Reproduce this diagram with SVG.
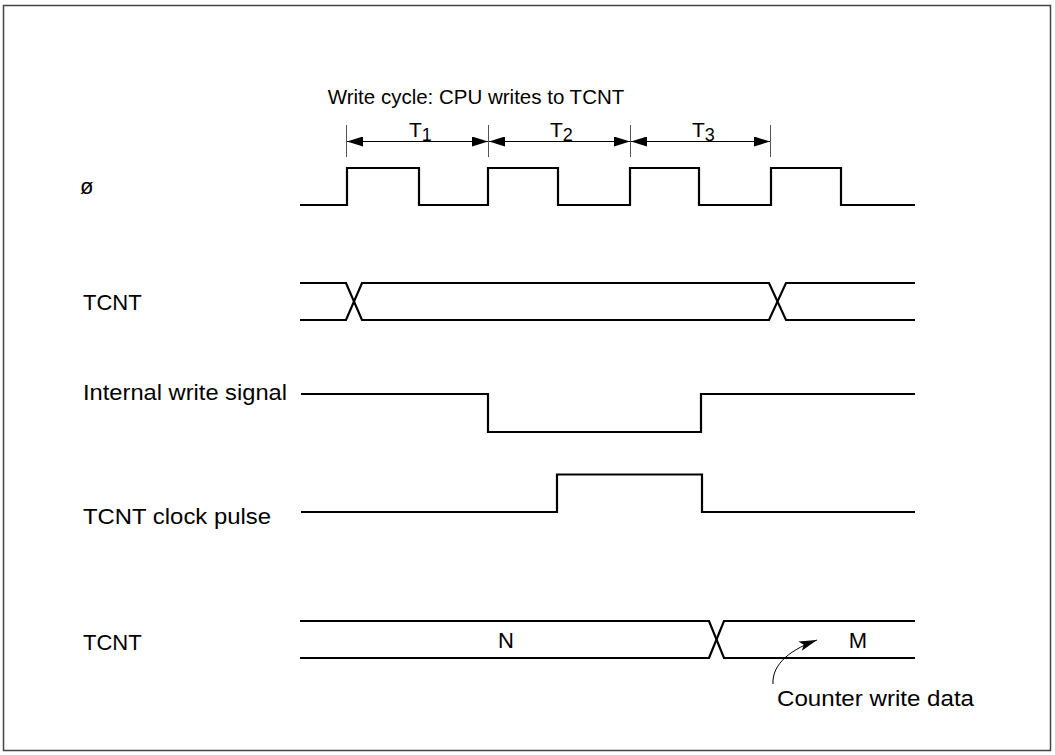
<svg xmlns="http://www.w3.org/2000/svg" width="1055" height="755" viewBox="0 0 1055 755">
<style>
.sig{fill:none;stroke:#000;stroke-width:2.2;stroke-linejoin:miter}
.tick{stroke:#555;stroke-width:1}
.dim{stroke:#000;stroke-width:1}
text{font-family:"Liberation Sans",Arial,sans-serif;font-size:22px;fill:#000}
.ttl{font-size:20.5px}
.per{font-size:21px}
.sub{font-size:18px}
</style>
<defs>
<marker id="ah" viewBox="0 0 16 10" refX="16" refY="5" markerWidth="16" markerHeight="10" markerUnits="userSpaceOnUse" orient="auto-start-reverse">
<path d="M0,0 L16,5 L0,10 Z" fill="#000"/>
</marker>
<marker id="ah2" viewBox="0 0 18 10" refX="18" refY="5" markerWidth="18" markerHeight="10" markerUnits="userSpaceOnUse" orient="auto">
<path d="M0,0 L18,5 L0,10 L4,5 Z" fill="#000"/>
</marker>
</defs>
<rect x="3.5" y="5.5" width="1047" height="745" fill="#fff" stroke="#444" stroke-width="1.5"/>
<g id="title"><text class="ttl" x="476" y="104" text-anchor="middle">Write cycle: CPU writes to TCNT</text></g>
<g id="labels">
<text x="80" y="194">ø</text>
<text x="83" y="310">TCNT</text>
<text x="83" y="400" textLength="204" lengthAdjust="spacingAndGlyphs">Internal write signal</text>
<text x="83" y="524" textLength="188" lengthAdjust="spacingAndGlyphs">TCNT clock pulse</text>
<text x="83" y="650">TCNT</text>
</g>
<g id="periods">
<line class="tick" x1="346.5" y1="125" x2="346.5" y2="157"/>
<line class="tick" x1="488.5" y1="125" x2="488.5" y2="157"/>
<line class="tick" x1="630.5" y1="125" x2="630.5" y2="157"/>
<line class="tick" x1="770.5" y1="125" x2="770.5" y2="157"/>
<line class="dim" x1="347" y1="141.5" x2="488" y2="141.5" marker-start="url(#ah)" marker-end="url(#ah)"/>
<line class="dim" x1="489" y1="141.5" x2="630" y2="141.5" marker-start="url(#ah)" marker-end="url(#ah)"/>
<line class="dim" x1="631" y1="141.5" x2="770" y2="141.5" marker-start="url(#ah)" marker-end="url(#ah)"/>
<text class="per" x="409" y="137">T<tspan class="sub" dy="4">1</tspan></text>
<text class="per" x="550" y="137">T<tspan class="sub" dy="4">2</tspan></text>
<text class="per" x="692" y="137">T<tspan class="sub" dy="4">3</tspan></text>
</g>
<g id="clock">
<path class="sig" d="M300,205 H347 V168 H419 V205 H488 V168 H558 V205 H630 V168 H699 V205 H771 V168 H841 V205 H915"/>
</g>
<g id="tcnt1">
<path class="sig" d="M300,283 H346 L362,320 H769 L786,283 H915"/>
<path class="sig" d="M300,320 H346 L362,283 H769 L786,320 H915"/>
</g>
<g id="write-signal">
<path class="sig" d="M301,394 H488 V432 H701 V394 H915"/>
</g>
<g id="clock-pulse">
<path class="sig" d="M301,512 H557 V474.5 H702 V512 H915"/>
</g>
<g id="tcnt2">
<path class="sig" d="M300,621 H709 L724,658 H915"/>
<path class="sig" d="M300,658 H709 L724,621 H915"/>
<text x="506" y="648" text-anchor="middle">N</text>
<text x="858" y="648" text-anchor="middle">M</text>
</g>
<g id="connectors">
<path d="M773,684 C772,668 784,652 817,640" fill="none" stroke="#000" stroke-width="1" marker-end="url(#ah2)"/>
</g>
<g id="note"><text x="777" y="706" textLength="197" lengthAdjust="spacingAndGlyphs">Counter write data</text></g>
</svg>
